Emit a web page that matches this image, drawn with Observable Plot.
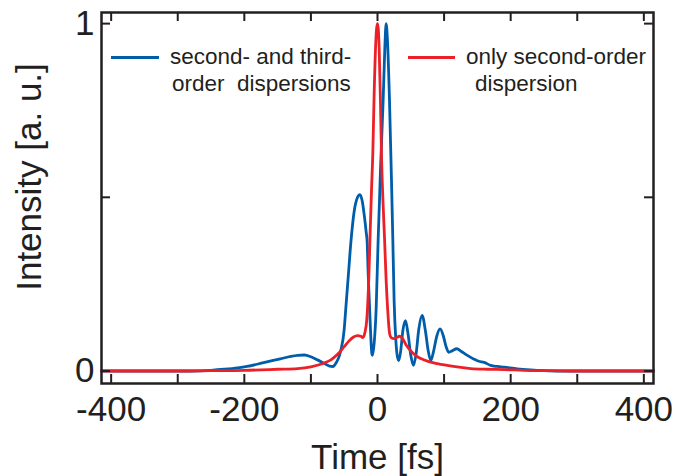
<!DOCTYPE html>
<html>
<head>
<meta charset="utf-8">
<script src="https://cdn.jsdelivr.net/npm/d3@7"></script>
<script src="https://cdn.jsdelivr.net/npm/@observablehq/plot@0.6"></script>
<style>
  body { margin: 0; background: #fff; }
  #wrap { position: relative; width: 675px; height: 476px; font-family: "Liberation Sans", Arial, sans-serif; color: #231f20; }
  .lg-line { position: absolute; height: 3px; }
  .lg-text { position: absolute; font-size: 22.5px; line-height: 27px; white-space: pre; }
</style>
</head>
<body>
<div id="wrap"></div>
<script>
// ---- data ----
const seriesNames = ["second- and third-order dispersions", "only second-order dispersion"];
const blueT = [-414.5,-280,-250,-230,-210,-196,-171,-146,-130,-120,-110,-100,-90,-80,-72,-67,-62,-58,-55,-50,-48,-44,-40,-35,-30,-26.5,-23,-20,-17,-15.5,-14,-11,-8.5,-7.5,-5,-2,1,3,4.5,8.5,11,13,15,18,21,23,25,27.5,30,32,35,38,42,46,50,54,58,62,67,72,76,80,84,89,94,99,103,107,112,119,126,135,145,152,160,170,180,190,210,230,250,270,414.5];
const blueV = [0,0,0.002,0.005,0.009,0.013,0.024,0.035,0.042,0.045,0.046,0.041,0.032,0.022,0.014,0.013,0.024,0.04,0.06,0.12,0.17,0.27,0.37,0.46,0.5,0.508,0.49,0.45,0.4,0.37,0.28,0.14,0.05,0.045,0.08,0.18,0.38,0.49,0.58,0.78,0.93,1.0,0.95,0.78,0.55,0.38,0.2,0.09,0.04,0.03,0.06,0.115,0.145,0.105,0.045,0.016,0.05,0.12,0.16,0.115,0.06,0.03,0.055,0.1,0.121,0.1,0.07,0.054,0.058,0.064,0.056,0.045,0.034,0.028,0.025,0.016,0.013,0.011,0.006,0.003,0.001,0,0];
const redT = [-414.5,-300,-250,-200,-150,-120,-100,-80,-70,-60,-50,-43,-36,-30,-25,-22,-19,-16,-13,-11,-9,-7,-5,-2.5,0,2.5,4.5,6,8,10.5,13,15.5,18,20,24,28,33,37,43,50,57,65,77,90,114,140,165,190,220,260,300,414.5];
const redV = [0,0,0.001,0.002,0.005,0.007,0.012,0.023,0.032,0.048,0.07,0.086,0.098,0.102,0.1,0.096,0.11,0.15,0.27,0.4,0.52,0.63,0.8,0.95,1.0,0.93,0.77,0.62,0.5,0.385,0.26,0.17,0.11,0.097,0.093,0.095,0.1,0.095,0.075,0.058,0.045,0.036,0.027,0.021,0.013,0.007,0.005,0.004,0.002,0.001,0,0];
const xTickLabels = [-400, -200, 0, 200, 400];
const xTickMarks = [-400, -300, -200, -100, 0, 100, 200, 300, 400];
const yTickLabels = [0, 1];
const yTickMarks = [0, 0.5, 1];
const xLabel = "Time [fs]";
const yLabel = "Intensity [a. u.]";

// ---- build ----
const blue = blueT.map((t, i) => ({t, v: blueV[i]}));
const red = redT.map((t, i) => ({t, v: redV[i]}));
const ink = "#231f20";
const W = 675, H = 476, mL = 101, mR = 22, mT = 12, mB = 93;
const pw = W - mL - mR, ph = H - mT - mB, tl = 9;

const chart = Plot.plot({
  width: W, height: H,
  marginLeft: mL, marginRight: mR, marginTop: mT, marginBottom: mB,
  x: {domain: [-414.5, 414.5]},
  y: {domain: [-0.036, 1.032]},
  style: {fontFamily: '"Liberation Sans", Arial, sans-serif', color: ink, background: "#fff"},
  marks: [
    Plot.line(blue, {x: "t", y: "v", stroke: "#005daa", strokeWidth: 2.8, curve: "monotone-x"}),
    Plot.line(red, {x: "t", y: "v", stroke: "#ec2027", strokeWidth: 2.8, curve: "monotone-x"}),
    Plot.tickX(xTickMarks, {x: d => d, insetTop: ph - tl, stroke: ink, strokeWidth: 2}),
    Plot.tickX(xTickMarks, {x: d => d, insetBottom: ph - tl, stroke: ink, strokeWidth: 2}),
    Plot.tickY(yTickMarks, {y: d => d, insetRight: pw - tl, stroke: ink, strokeWidth: 2}),
    Plot.tickY(yTickMarks, {y: d => d, insetLeft: pw - tl, stroke: ink, strokeWidth: 2}),
    Plot.frame({stroke: ink, strokeWidth: 2.5}),
    Plot.axisX({ticks: xTickLabels, tickSize: 0, tickPadding: 13, fontSize: 35, tickFormat: d => String(d), label: null}),
    Plot.axisY({ticks: yTickLabels, tickSize: 0, tickPadding: 7, fontSize: 35, tickFormat: d => String(d), label: null}),
    Plot.text([xLabel], {text: d => d, frameAnchor: "bottom", textAnchor: "middle", dy: 74, fontSize: 35, lineAnchor: "middle", fill: ink}),
    Plot.text([yLabel], {text: d => d, frameAnchor: "left", textAnchor: "middle", rotate: -90, dx: -72, dy: -21, fontSize: 35, lineAnchor: "middle", fill: ink})
  ]
});
const wrap = document.getElementById("wrap");
wrap.appendChild(chart);

// ---- legend (HTML overlay) ----
const legend = [
  {color: "#005daa", x1: 111, x2: 159, y: 57, tx: 170, lines: ["second- and third-", "order  dispersions"], indent: [0, 2]},
  {color: "#ec2027", x1: 408, x2: 455, y: 57, tx: 466, lines: ["only second-order", "dispersion"], indent: [0, 9]}
];
legend.forEach(l => {
  const ln = document.createElement("div");
  ln.className = "lg-line";
  ln.style.left = l.x1 + "px"; ln.style.width = (l.x2 - l.x1) + "px";
  ln.style.top = (l.y - 1.5) + "px"; ln.style.background = l.color;
  wrap.appendChild(ln);
  l.lines.forEach((s, i) => {
    const tx = document.createElement("div");
    tx.className = "lg-text";
    tx.textContent = s;
    tx.style.left = (l.tx + l.indent[i]) + "px";
    tx.style.top = (l.y - 14 + i * 27) + "px";
    wrap.appendChild(tx);
  });
});
</script>
</body>
</html>
